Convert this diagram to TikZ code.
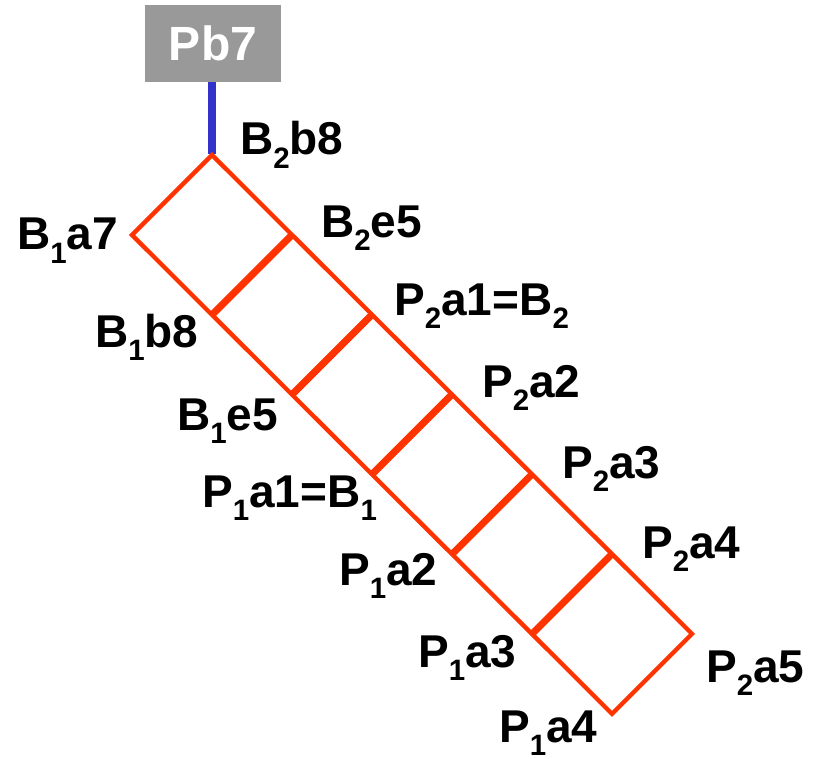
\documentclass[tikz,border=0pt]{standalone}
\usepackage{fontspec}
\setmainfont{Liberation Sans}
\newcommand{\subx}[1]{\raisebox{-0.3em}[0pt][0pt]{\fontsize{29.5}{30}\selectfont #1}}
\definecolor{ladred}{HTML}{FF3300}
\definecolor{ladblue}{HTML}{3333CC}
\definecolor{boxgray}{HTML}{999999}
\tikzset{
  lbl/.style={anchor=base west, inner sep=0pt, font=\fontsize{46}{48}\selectfont\bfseries},
  rail/.style={draw=ladred, line width=4.3pt, line join=miter},
  rung/.style={draw=ladred, line width=7pt},
  stem/.style={draw=ladblue, line width=7.5pt},
  pbbox/.style={fill=boxgray, minimum width=136pt, minimum height=77pt, inner sep=0pt, text=white, font=\fontsize{48}{50}\selectfont\bfseries}
}
\begin{document}
\begin{tikzpicture}[x=1pt,y=-1pt]
\useasboundingbox (0,0) rectangle (821,759);
% ladder vertices
\coordinate (T) at (212,155);
\foreach \k in {0,...,6}{
  \coordinate (R\k) at ({212+80*\k},{155+79.8*\k});
  \coordinate (L\k) at ({132+80*\k},{235+79.8*\k});
}
% box
\node[pbbox] (pb) at (213,43.5) {Pb7};
\draw[stem] (pb.south -| T) -- ([yshift=1pt]T);
% rails and end rungs
\draw[rail] (L0) -- (R0) -- (R6) -- (L6) -- cycle;
\foreach \k in {1,...,5}{
  \draw[rung] (R\k) -- (L\k);
}
% labels
\node[lbl] (b2b8) at (240,155) {B\subx{2}b8};
\node[lbl] (b2e5) at (321,237) {B\subx{2}e5};
\node[lbl] (p2a1) at (394,315) {P\subx{2}a1=B\subx{2}};
\node[lbl] (p2a2) at (482,397) {P\subx{2}a2};
\node[lbl] (p2a3) at (562,478) {P\subx{2}a3};
\node[lbl] (p2a4) at (642,558) {P\subx{2}a4};
\node[lbl] (p2a5) at (706,682) {P\subx{2}a5};
\node[lbl] (b1a7) at (17,250) {B\subx{1}a7};
\node[lbl] (b1b8) at (95,347) {B\subx{1}b8};
\node[lbl] (b1e5) at (177,430) {B\subx{1}e5};
\node[lbl] (p1a1) at (202,507) {P\subx{1}a1=B\subx{1}};
\node[lbl] (p1a2) at (339,585) {P\subx{1}a2};
\node[lbl] (p1a3) at (418,667) {P\subx{1}a3};
\node[lbl] (p1a4) at (499,742) {P\subx{1}a4};
\end{tikzpicture}
\end{document}
